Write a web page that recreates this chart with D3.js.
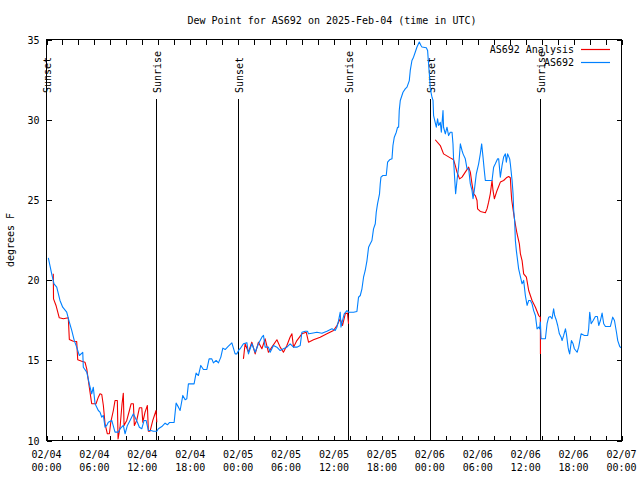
<!DOCTYPE html>
<html><head><meta charset="utf-8">
<script src="https://cdn.jsdelivr.net/npm/d3@7"></script>
<style>
html,body{margin:0;padding:0;background:#fff;}
text{font-family:"DejaVu Sans Mono",monospace;font-size:10px;fill:#000;}
</style></head>
<body><svg id="c" width="640" height="480"></svg>
<script>
const titleText = "Dew Point for AS692 on 2025-Feb-04 (time in UTC)";
const yLabel = "degrees F";
const yTicks = [10, 15, 20, 25, 30, 35];
const seriesNames = ["AS692 Analysis", "AS692"];
const seriesColors = ["#f00000", "#0080ff"];
// hours since 2025-02-04 00:00 UTC
const sunHours = [0.02, 13.75, 24.02, 37.79, 48.06, 61.83];
const sunLabels = ["Sunset", "Sunrise", "Sunset", "Sunrise", "Sunset", "Sunrise"];

// AS692 observations
const obsHours = [0.23,0.65,0.94,1.28,1.69,2.03,2.53,2.86,3.16,3.48,3.78,4.11,4.54,4.61,5.04,5.36,5.66,5.86,6.08,6.49,6.70,6.92,7.12,7.33,7.54,7.74,8.17,8.58,9.0,9.21,9.62,9.84,10.13,10.46,10.88,11.09,11.38,11.63,11.93,12.22,12.47,12.76,13.06,13.38,13.81,14.01,14.44,14.85,15.14,15.39,15.98,16.23,16.52,16.73,17.07,17.36,17.57,17.77,18.48,18.73,19.02,19.32,19.65,20.08,20.36,20.7,20.9,21.24,21.53,21.83,22.08,22.37,22.78,23.21,23.62,23.83,24.12,24.25,24.66,25.09,25.29,25.71,26.13,26.54,26.97,27.17,27.38,27.79,28.01,28.42,28.85,29.26,29.67,30.1,30.51,30.93,31.35,31.77,31.98,32.39,32.68,32.81,33.23,33.86,34.49,35.11,35.74,36.15,36.37,36.57,36.78,36.87,37.12,37.28,37.62,37.82,38.45,38.87,39.07,39.29,39.5,39.7,39.91,40.13,40.33,40.54,40.75,40.95,41.17,41.29,41.45,41.7,41.79,41.88,42.13,42.54,42.71,42.96,43.26,43.38,43.55,43.8,43.96,44.09,44.17,44.3,44.64,44.92,45.14,45.43,45.55,45.76,45.96,46.18,46.39,46.68,46.89,47.02,47.56,47.72,47.84,47.97,48.06,48.27,48.4,48.47,48.81,48.97,49.1,49.31,49.44,49.65,49.72,49.94,50.15,50.35,50.56,50.78,50.9,50.98,51.1,51.23,51.4,51.6,51.82,52.03,52.16,52.44,52.66,52.86,53.07,53.28,53.41,53.57,53.82,54.11,54.32,54.49,54.66,54.82,54.95,55.79,55.99,56.2,56.49,56.62,56.83,57.04,57.24,57.46,57.58,57.74,58.0,58.08,58.3,58.42,58.5,58.62,58.71,58.83,59.12,59.55,59.75,59.96,60.18,60.38,60.59,60.8,61.0,61.22,61.43,61.63,61.75,61.84,61.93,62.47,62.68,62.88,63.09,63.3,63.5,63.63,63.85,64.01,64.22,64.44,64.56,64.76,64.98,65.1,65.31,65.39,65.51,65.73,65.94,66.1,66.44,66.64,66.94,67.36,67.77,67.89,68.02,68.2,68.45,68.73,68.98,69.15,69.36,69.57,69.77,69.99,70.61,70.9,71.12,71.37,71.53,71.78,71.95];
const obsDew = [21.39,20.39,19.77,19.56,18.73,18.31,18.0,17.38,16.86,16.23,15.82,15.3,15.5,14.57,14.26,13.53,12.91,13.32,12.29,11.87,11.77,11.45,11.56,10.83,10.94,11.14,11.25,10.52,10.52,10.73,10.94,10.42,10.94,11.25,11.66,11.45,11.14,10.83,10.73,11.25,11.25,10.62,10.62,10.58,10.58,10.73,10.87,11.08,10.98,11.12,11.12,12.33,12.08,11.87,12.81,12.54,12.6,13.53,13.53,14.2,14.05,14.68,14.43,14.43,15.09,15.09,14.84,14.99,14.84,15.2,15.76,15.67,15.88,16.09,15.4,15.4,15.67,15.72,16.03,16.1,15.4,16.03,15.5,16.03,16.44,16.55,15.82,15.82,15.5,15.92,15.82,15.61,15.72,15.82,16.03,15.82,15.82,15.92,16.75,16.81,16.81,16.65,16.69,16.75,16.69,16.81,16.96,16.86,17.07,17.48,18.0,17.07,17.59,17.9,18.1,18.0,18.0,18.04,18.93,19.04,19.46,20.18,20.6,21.22,22.05,22.26,22.47,23.19,23.51,24.23,24.75,25.38,26.0,26.42,26.52,26.52,27.35,27.5,27.56,28.39,28.91,29.22,29.53,29.53,30.57,31.2,31.71,31.92,32.03,32.44,33.07,33.69,33.9,34.22,34.53,34.84,34.63,34.53,34.49,34.32,33.48,32.65,31.92,31.4,31.2,30.26,29.53,30.05,29.64,29.84,29.22,30.57,29.53,29.12,29.53,29.01,29.22,29.22,28.49,27.46,26.42,25.38,26.21,27.04,28.49,28.08,27.87,27.56,26.94,26.94,26.0,25.59,25.07,25.59,26.63,27.25,27.87,28.49,27.67,26.83,26.21,26.21,27.04,27.25,27.56,27.56,26.42,27.14,27.67,27.87,27.35,27.87,27.56,27.25,26.21,25.38,24.34,23.72,22.47,21.85,20.7,19.77,19.98,19.04,18.42,18.73,18.73,18.52,18.1,17.79,16.96,17.07,16.96,17.38,16.34,16.34,17.28,17.69,17.73,17.59,18.21,17.79,17.48,17.17,16.65,16.44,16.23,16.55,16.96,16.65,15.82,15.61,15.4,16.23,16.03,15.72,15.5,15.82,16.65,16.55,16.55,16.96,18.0,17.28,17.48,17.73,17.73,17.17,17.48,17.94,17.28,17.11,17.11,17.69,17.48,16.75,16.23,15.86,15.78];

// AS692 Analysis (null = gap)
const anaHours = [0.85,0.88,1.19,1.6,2.11,2.73,2.86,3.36,3.78,3.91,4.41,4.82,5.04,5.36,5.54,5.66,6.2,6.49,6.7,6.92,7.12,7.33,7.62,7.87,8.05,8.37,8.58,8.87,8.96,9.21,9.46,9.62,9.71,10.05,10.38,10.59,10.88,11.0,11.3,11.63,11.93,12.06,12.34,12.63,12.76,12.97,13.31,13.72,13.81,
  null,
  24.66,24.87,25.29,25.71,26.13,26.54,26.97,27.38,27.79,28.22,28.85,29.26,29.67,30.1,30.51,30.73,30.93,31.35,31.98,32.52,32.81,33.43,34.27,35.11,35.94,36.37,36.78,37.07,37.41,37.69,37.82,
  null,
  48.68,49.31,49.72,50.56,50.98,51.19,51.4,51.73,52.03,52.44,52.86,53.07,53.28,53.48,53.7,53.91,53.98,54.32,54.95,55.16,55.36,55.57,55.79,55.91,56.08,56.42,56.83,57.24,57.58,57.87,58.08,58.17,58.25,58.62,58.92,59.21,59.34,59.55,59.75,60.09,60.38,60.8,61.22,61.63,61.84,61.85];
const anaDew = [20.39,18.83,18.42,17.65,17.59,17.65,16.3,16.19,16.17,15.03,14.94,14.88,14.47,13.32,12.7,12.29,12.29,12.7,12.91,12.87,12.18,11.04,10.42,10.42,11.14,11.87,12.49,12.49,10.1,10.83,12.29,12.95,10.94,11.25,11.87,12.29,12.29,10.94,11.25,12.04,12.04,11.14,11.77,12.18,10.58,10.58,11.25,11.87,11.14,
  null,
  15.09,16.03,15.5,16.13,15.4,16.13,15.72,16.34,15.5,15.82,16.28,15.82,15.5,15.92,16.45,16.65,15.82,16.23,16.65,16.75,16.13,16.28,16.44,16.65,16.86,17.17,17.59,17.17,17.9,17.94,17.28,
  null,
  28.75,28.39,27.87,27.62,27.5,27.14,26.73,26.31,26.42,26.73,27.04,26.73,26.0,25.38,25.27,24.96,24.44,24.28,24.2,24.44,24.86,25.38,26.21,25.59,25.07,25.59,26.11,26.21,26.38,26.46,26.38,25.59,25.01,23.72,22.89,22.26,21.64,21.22,20.39,20.18,19.35,18.73,18.31,17.79,17.69,15.4];

const t0 = Date.UTC(2025, 1, 4, 0, 0);
const toDate = h => new Date(t0 + h * 3600000);

const svg = d3.select("#c");
const L = 46.5, R = 621.5, T = 39.5, B = 440.5;
const x = d3.scaleUtc().domain([toDate(0), toDate(72)]).range([L, R]);
const y = d3.scaleLinear().domain([10, 35]).range([B, T]);

svg.append("rect").attr("width", 640).attr("height", 480).attr("fill", "#fff");

// title
svg.append("text").attr("x", 332).attr("y", 24).attr("text-anchor", "middle").text(titleText);
// y label
svg.append("text").attr("transform", "translate(14,240) rotate(-90)").attr("text-anchor", "middle").text(yLabel);

// x ticks every 2 hours, labels every 6 hours
const tickDates = d3.range(0, 73, 2).map(toDate);
const fmtD = d3.utcFormat("%m/%d"), fmtT = d3.utcFormat("%H:%M");
const gx = svg.append("g").attr("transform", `translate(0,${B})`)
  .call(d3.axisBottom(x).tickValues(tickDates).tickSize(-5).tickSizeOuter(0).tickFormat(""));
gx.select(".domain").remove();
gx.selectAll("line").attr("stroke", "#000").attr("shape-rendering", "crispEdges");
const gxt = svg.append("g").attr("transform", `translate(0,${T})`)
  .call(d3.axisTop(x).tickValues(tickDates).tickSize(-5).tickSizeOuter(0).tickFormat(""));
gxt.select(".domain").remove();
gxt.selectAll("line").attr("stroke", "#000").attr("shape-rendering", "crispEdges");

const labelDates = d3.range(0, 73, 6).map(toDate);
const xl = svg.append("g").selectAll("text").data(labelDates).join("text")
  .attr("x", d => x(d)).attr("text-anchor", "middle");
xl.append("tspan").attr("x", d => x(d)).attr("y", 458).text(d => fmtD(d));
xl.append("tspan").attr("x", d => x(d)).attr("y", 471).text(d => fmtT(d));

// y axis
const gy = svg.append("g").attr("transform", `translate(${L},0)`)
  .call(d3.axisLeft(y).tickValues(yTicks).tickSize(-5).tickSizeOuter(0).tickFormat(d3.format("d")));
gy.select(".domain").remove();
gy.selectAll("line").attr("stroke", "#000").attr("shape-rendering", "crispEdges");
gy.selectAll("text").attr("x", -7).attr("dy", "0.35em").style("font-family", '"DejaVu Sans Mono",monospace').style("font-size", "10px").attr("fill", "#000");
const gyr = svg.append("g").attr("transform", `translate(${R},0)`)
  .call(d3.axisRight(y).tickValues(yTicks).tickSize(-5).tickSizeOuter(0).tickFormat(""));
gyr.select(".domain").remove();
gyr.selectAll("line").attr("stroke", "#000").attr("shape-rendering", "crispEdges");

// sunrise/sunset
const sg = svg.append("g");
sunHours.forEach((h, i) => {
  const sx = Math.floor(x(toDate(h))) + 0.5;
  sg.append("line").attr("x1", sx).attr("x2", sx).attr("y1", 99).attr("y2", B)
    .attr("stroke", "#000").attr("stroke-width", 1).attr("shape-rendering", "crispEdges");
  sg.append("text").attr("transform", `translate(${sx + 0.5},93) rotate(-90)`).attr("dy", "0.35em")
    .attr("text-anchor", "start").text(sunLabels[i]);
});

// data lines
const line = d3.line().defined(d => d[1] != null).x(d => x(toDate(d[0]))).y(d => y(d[1]));
const anaData = anaHours.map((h, i) => [h, anaDew[i]]);
const obsData = obsHours.map((h, i) => [h, obsDew[i]]);
svg.append("path").datum(anaData).attr("d", line).attr("fill", "none")
  .attr("stroke", seriesColors[0]).attr("stroke-width", 1.1).attr("stroke-linejoin", "round");
svg.append("path").datum(obsData).attr("d", line).attr("fill", "none")
  .attr("stroke", seriesColors[1]).attr("stroke-width", 1.1).attr("stroke-linejoin", "round");

// frame
svg.append("rect").attr("x", L).attr("y", T).attr("width", R - L).attr("height", B - T)
  .attr("fill", "none").attr("stroke", "#000").attr("shape-rendering", "crispEdges");

// legend
const lg = svg.append("g");
seriesNames.forEach((n, i) => {
  const ly = 49.5 + i * 13;
  lg.append("text").attr("x", 574).attr("y", ly).attr("dy", "0.35em").attr("text-anchor", "end").text(n);
  lg.append("line").attr("x1", 581).attr("x2", 610).attr("y1", ly).attr("y2", ly)
    .attr("stroke", seriesColors[i]).attr("stroke-width", 1.2);
});
</script></body></html>
